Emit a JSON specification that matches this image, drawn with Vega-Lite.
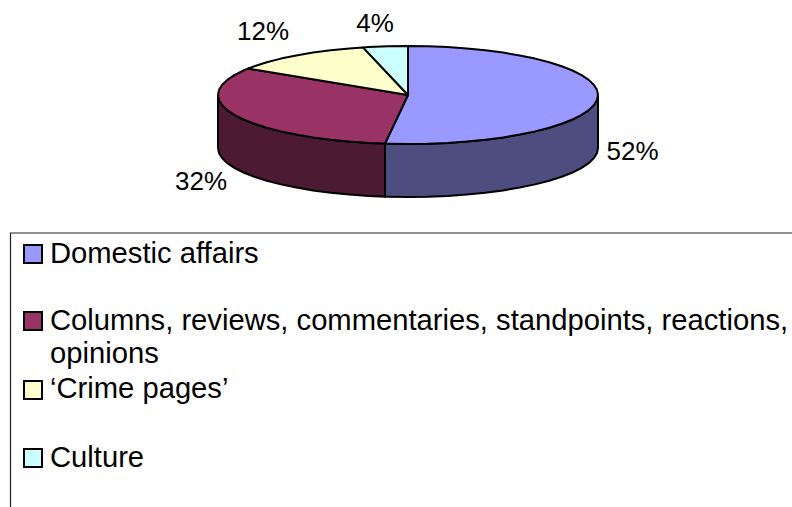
{
"$schema":"https://vega.github.io/schema/vega-lite/v6.json",
"width":792,"height":507,"padding":0,
"autosize":{"type":"fit","contains":"padding"},
"config":{"view":{"stroke":null}},
"datasets":{
"walls":[
{"part":"Columns side","x":218,"top":95,"bottom":148},
{"part":"Columns side","x":219,"top":100.1,"bottom":153.1},
{"part":"Columns side","x":222.2,"top":105.2,"bottom":158.2},
{"part":"Columns side","x":227.3,"top":110.1,"bottom":163.1},
{"part":"Columns side","x":234.4,"top":114.9,"bottom":167.9},
{"part":"Columns side","x":243.5,"top":119.5,"bottom":172.5},
{"part":"Columns side","x":254.3,"top":123.8,"bottom":176.8},
{"part":"Columns side","x":266.8,"top":127.8,"bottom":180.8},
{"part":"Columns side","x":280.9,"top":131.4,"bottom":184.4},
{"part":"Columns side","x":296.3,"top":134.6,"bottom":187.6},
{"part":"Columns side","x":313,"top":137.4,"bottom":190.4},
{"part":"Columns side","x":330.7,"top":139.8,"bottom":192.8},
{"part":"Columns side","x":349.3,"top":141.6,"bottom":194.6},
{"part":"Columns side","x":368.5,"top":142.9,"bottom":195.9},
{"part":"Columns side","x":385,"top":143.6,"bottom":196.6},
{"part":"Domestic side","x":385,"top":143.6,"bottom":196.6},
{"part":"Domestic side","x":388.1,"top":143.7,"bottom":196.7},
{"part":"Domestic side","x":408,"top":144,"bottom":197},
{"part":"Domestic side","x":427.9,"top":143.7,"bottom":196.7},
{"part":"Domestic side","x":447.5,"top":142.9,"bottom":195.9},
{"part":"Domestic side","x":466.7,"top":141.6,"bottom":194.6},
{"part":"Domestic side","x":485.3,"top":139.8,"bottom":192.8},
{"part":"Domestic side","x":503,"top":137.4,"bottom":190.4},
{"part":"Domestic side","x":519.7,"top":134.6,"bottom":187.6},
{"part":"Domestic side","x":535.1,"top":131.4,"bottom":184.4},
{"part":"Domestic side","x":549.2,"top":127.8,"bottom":180.8},
{"part":"Domestic side","x":561.7,"top":123.8,"bottom":176.8},
{"part":"Domestic side","x":572.5,"top":119.5,"bottom":172.5},
{"part":"Domestic side","x":581.6,"top":114.9,"bottom":167.9},
{"part":"Domestic side","x":588.7,"top":110.1,"bottom":163.1},
{"part":"Domestic side","x":593.8,"top":105.2,"bottom":158.2},
{"part":"Domestic side","x":597,"top":100.1,"bottom":153.1},
{"part":"Domestic side","x":598,"top":95,"bottom":148}
],
"sectors":[
{"part":"Domestic affairs","seq":0,"x":408,"y":95},
{"part":"Domestic affairs","seq":1,"x":408,"y":46},
{"part":"Domestic affairs","seq":2,"x":427.9,"y":46.3},
{"part":"Domestic affairs","seq":3,"x":447.5,"y":47.1},
{"part":"Domestic affairs","seq":4,"x":466.7,"y":48.4},
{"part":"Domestic affairs","seq":5,"x":485.3,"y":50.2},
{"part":"Domestic affairs","seq":6,"x":503,"y":52.6},
{"part":"Domestic affairs","seq":7,"x":519.7,"y":55.4},
{"part":"Domestic affairs","seq":8,"x":535.1,"y":58.6},
{"part":"Domestic affairs","seq":9,"x":549.2,"y":62.2},
{"part":"Domestic affairs","seq":10,"x":561.7,"y":66.2},
{"part":"Domestic affairs","seq":11,"x":572.5,"y":70.5},
{"part":"Domestic affairs","seq":12,"x":581.6,"y":75.1},
{"part":"Domestic affairs","seq":13,"x":588.7,"y":79.9},
{"part":"Domestic affairs","seq":14,"x":593.8,"y":84.8},
{"part":"Domestic affairs","seq":15,"x":597,"y":89.9},
{"part":"Domestic affairs","seq":16,"x":598,"y":95},
{"part":"Domestic affairs","seq":17,"x":597,"y":100.1},
{"part":"Domestic affairs","seq":18,"x":593.8,"y":105.2},
{"part":"Domestic affairs","seq":19,"x":588.7,"y":110.1},
{"part":"Domestic affairs","seq":20,"x":581.6,"y":114.9},
{"part":"Domestic affairs","seq":21,"x":572.5,"y":119.5},
{"part":"Domestic affairs","seq":22,"x":561.7,"y":123.8},
{"part":"Domestic affairs","seq":23,"x":549.2,"y":127.8},
{"part":"Domestic affairs","seq":24,"x":535.1,"y":131.4},
{"part":"Domestic affairs","seq":25,"x":519.7,"y":134.6},
{"part":"Domestic affairs","seq":26,"x":503,"y":137.4},
{"part":"Domestic affairs","seq":27,"x":485.3,"y":139.8},
{"part":"Domestic affairs","seq":28,"x":466.7,"y":141.6},
{"part":"Domestic affairs","seq":29,"x":447.5,"y":142.9},
{"part":"Domestic affairs","seq":30,"x":427.9,"y":143.7},
{"part":"Domestic affairs","seq":31,"x":408,"y":144},
{"part":"Domestic affairs","seq":32,"x":388.1,"y":143.7},
{"part":"Domestic affairs","seq":33,"x":385,"y":143.6},
{"part":"Domestic affairs","seq":34,"x":408,"y":95},
{"part":"Columns","seq":0,"x":408,"y":95},
{"part":"Columns","seq":1,"x":385,"y":143.6},
{"part":"Columns","seq":2,"x":368.5,"y":142.9},
{"part":"Columns","seq":3,"x":349.3,"y":141.6},
{"part":"Columns","seq":4,"x":330.7,"y":139.8},
{"part":"Columns","seq":5,"x":313,"y":137.4},
{"part":"Columns","seq":6,"x":296.3,"y":134.6},
{"part":"Columns","seq":7,"x":280.9,"y":131.4},
{"part":"Columns","seq":8,"x":266.8,"y":127.8},
{"part":"Columns","seq":9,"x":254.3,"y":123.8},
{"part":"Columns","seq":10,"x":243.5,"y":119.5},
{"part":"Columns","seq":11,"x":234.4,"y":114.9},
{"part":"Columns","seq":12,"x":227.3,"y":110.1},
{"part":"Columns","seq":13,"x":222.2,"y":105.2},
{"part":"Columns","seq":14,"x":219,"y":100.1},
{"part":"Columns","seq":15,"x":218,"y":95},
{"part":"Columns","seq":16,"x":219,"y":89.9},
{"part":"Columns","seq":17,"x":222.2,"y":84.8},
{"part":"Columns","seq":18,"x":227.3,"y":79.9},
{"part":"Columns","seq":19,"x":234.4,"y":75.1},
{"part":"Columns","seq":20,"x":243.5,"y":70.5},
{"part":"Columns","seq":21,"x":248,"y":68.6},
{"part":"Columns","seq":22,"x":408,"y":95},
{"part":"Crime pages","seq":0,"x":408,"y":95},
{"part":"Crime pages","seq":1,"x":248,"y":68.6},
{"part":"Crime pages","seq":2,"x":254.3,"y":66.2},
{"part":"Crime pages","seq":3,"x":266.8,"y":62.2},
{"part":"Crime pages","seq":4,"x":280.9,"y":58.6},
{"part":"Crime pages","seq":5,"x":296.3,"y":55.4},
{"part":"Crime pages","seq":6,"x":313,"y":52.6},
{"part":"Crime pages","seq":7,"x":330.7,"y":50.2},
{"part":"Crime pages","seq":8,"x":349.3,"y":48.4},
{"part":"Crime pages","seq":9,"x":363,"y":47.4},
{"part":"Crime pages","seq":10,"x":408,"y":95},
{"part":"Culture","seq":0,"x":408,"y":95},
{"part":"Culture","seq":1,"x":363,"y":47.4},
{"part":"Culture","seq":2,"x":368.5,"y":47.1},
{"part":"Culture","seq":3,"x":388.1,"y":46.3},
{"part":"Culture","seq":4,"x":408,"y":46},
{"part":"Culture","seq":5,"x":408,"y":95}
],
"shares":[
{"part":"Domestic affairs","share":"52%","x":632.5,"y":160},
{"part":"Columns","share":"32%","x":201,"y":190},
{"part":"Crime pages","share":"12%","x":263,"y":40},
{"part":"Culture","share":"4%","x":375,"y":32}
],
"legendSwatches":[
{"part":"Domestic affairs","x":33,"y":254},
{"part":"Columns","x":33,"y":321},
{"part":"Crime pages","x":33,"y":390},
{"part":"Culture","x":33,"y":458}
],
"legendText":[
{"text":"Domestic affairs","x":50,"y":263},
{"text":"Columns, reviews, commentaries, standpoints, reactions,","x":50,"y":330},
{"text":"opinions","x":50,"y":363},
{"text":"‘Crime pages’","x":50,"y":398},
{"text":"Culture","x":50,"y":467}
],
"frame":[
{"seq":0,"x":792,"y":233},
{"seq":1,"x":10.5,"y":233},
{"seq":2,"x":10.5,"y":507}
]
},
"layer":[
{"data":{"name":"frame"},
 "mark":{"type":"line","stroke":"#222222","strokeWidth":1.2,"clip":true},
 "encoding":{
  "x":{"field":"x","type":"quantitative","scale":{"domain":[0,792],"nice":false,"zero":false},"axis":null},
  "y":{"field":"y","type":"quantitative","scale":{"domain":[507,0],"nice":false,"zero":false},"axis":null},
  "order":{"field":"seq"}}},
{"data":{"name":"walls"},
 "mark":{"type":"area","stroke":"#000000","strokeWidth":2},
 "encoding":{
  "x":{"field":"x","type":"quantitative"},
  "y":{"field":"top","type":"quantitative"},
  "y2":{"field":"bottom"},
  "color":{"field":"part","type":"nominal","legend":null}}},
{"data":{"name":"sectors"},
 "mark":{"type":"line","filled":true,"stroke":"#000000","strokeWidth":2,"strokeJoin":"round"},
 "encoding":{
  "x":{"field":"x","type":"quantitative"},
  "y":{"field":"y","type":"quantitative"},
  "order":{"field":"seq"},
  "color":{"field":"part","type":"nominal","legend":null}}},
{"data":{"name":"shares"},
 "mark":{"type":"text","font":"Liberation Sans","fontSize":26,"align":"center","baseline":"alphabetic","fill":"#000000"},
 "encoding":{
  "x":{"field":"x","type":"quantitative"},
  "y":{"field":"y","type":"quantitative"},
  "text":{"field":"share"}}},
{"data":{"name":"legendSwatches"},
 "mark":{"type":"point","shape":"square","filled":true,"size":324,"stroke":"#000000","strokeWidth":2,"opacity":1},
 "encoding":{
  "x":{"field":"x","type":"quantitative"},
  "y":{"field":"y","type":"quantitative"},
  "color":{"field":"part","type":"nominal","legend":null}}},
{"data":{"name":"legendText"},
 "mark":{"type":"text","font":"Liberation Sans","fontSize":29.2,"align":"left","baseline":"alphabetic","fill":"#000000"},
 "encoding":{
  "x":{"field":"x","type":"quantitative"},
  "y":{"field":"y","type":"quantitative"},
  "text":{"field":"text"}}}
],
"resolve":{"scale":{"x":"shared","y":"shared","color":"shared"}},
"encoding":{"color":{"scale":{"domain":["Domestic affairs","Columns","Crime pages","Culture","Domestic side","Columns side"],"range":["#9999FF","#993366","#FFFFCC","#CCFFFF","#4D4D80","#4D1A33"]}}}
}
